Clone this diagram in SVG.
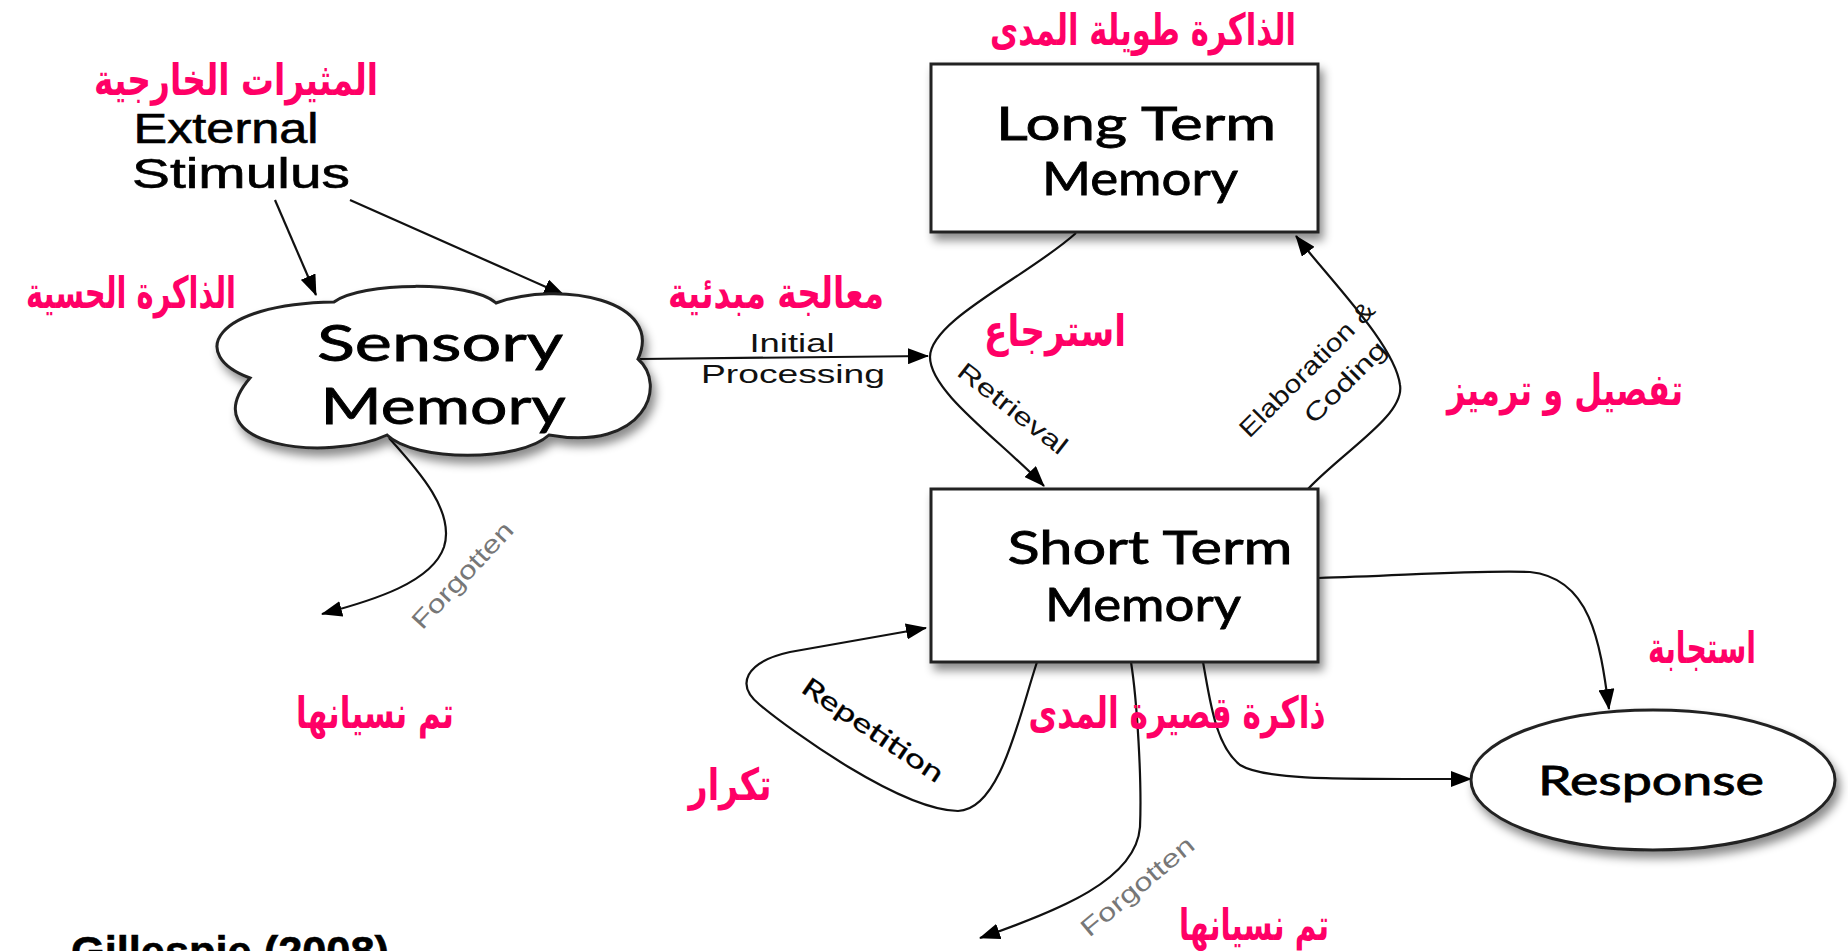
<svg xmlns="http://www.w3.org/2000/svg" width="1848" height="951" viewBox="0 0 1848 951">
<defs>
<style>
.ar{font-family:"DejaVu Sans","Noto Sans",sans-serif;font-weight:bold;fill:#FF0066;font-size:44px;text-anchor:middle}
.en{font-family:"Liberation Sans",Arial,sans-serif;fill:#000;text-anchor:middle;stroke:#000;stroke-width:0.6}
.gs{font-family:Lato,"Open Sans",sans-serif;fill:#000;text-anchor:middle;stroke:#000;stroke-width:0.8}
.lbl{font-family:"Liberation Sans",Arial,sans-serif;font-size:25px;fill:#111;text-anchor:middle}
.fg{fill:#777}
.node{fill:#fff;stroke:#222;stroke-width:3}
.edge{fill:none;stroke:#111;stroke-width:2.2}
</style>
<filter id="sh" x="-10%" y="-10%" width="130%" height="140%">
<feDropShadow dx="4" dy="7" stdDeviation="5" flood-color="#000" flood-opacity="0.45"/>
</filter>
<marker id="ah" markerUnits="userSpaceOnUse" markerWidth="22" markerHeight="16" refX="20" refY="8" orient="auto">
<path d="M0,0 L21,8 L0,16 Z" fill="#000"/>
</marker>
</defs>
<rect width="1848" height="951" fill="#fff"/>

<g id="connectors">
<path class="edge" d="M275 200 L316 295" marker-end="url(#ah)"/>
<path class="edge" d="M350 200 L564 295" marker-end="url(#ah)"/>
<path class="edge" d="M640 359 L928 356" marker-end="url(#ah)"/>
<path class="edge" d="M389 438 C420 472 455 512 444 547 C432 582 375 600 322 614" marker-end="url(#ah)"/>
<path class="edge" d="M1076 233 C1030 275 930 320 930 357 C930 392 1000 440 1044 486" marker-end="url(#ah)"/>
<path class="edge" d="M1308 489 C1345 450 1405 415 1400 385 C1395 345 1330 280 1296 236" marker-end="url(#ah)"/>
<path class="edge" d="M1037 662 C1018 720 1000 810 958 811 C900 810 790 730 760 705 C735 685 745 662 790 652 L926 628" marker-end="url(#ah)"/>
<path class="edge" d="M1131 662 C1137 700 1142 780 1140 827 C1136 880 1060 910 980 938" marker-end="url(#ah)"/>
<path class="edge" d="M1203 662 C1210 700 1215 745 1240 765 C1265 780 1330 779 1471 779" marker-end="url(#ah)"/>
<path class="edge" d="M1318 578 C1400 576 1470 570 1530 572 C1590 578 1600 640 1609 709" marker-end="url(#ah)"/>
</g>

<g id="edge-labels">
<text class="lbl" x="792" y="352" textLength="85" lengthAdjust="spacingAndGlyphs">Initial</text>
<text class="lbl" x="793" y="383" textLength="184" lengthAdjust="spacingAndGlyphs">Processing</text>
<text class="lbl" transform="translate(1013,408) rotate(38)" y="9" textLength="132" lengthAdjust="spacingAndGlyphs">Retrieval</text>
<g transform="translate(1325,376) rotate(-45)">
<text class="lbl" x="-8" y="-9" textLength="180" lengthAdjust="spacingAndGlyphs">Elaboration &amp;</text>
<text class="lbl" x="10" y="27" textLength="105" lengthAdjust="spacingAndGlyphs">Coding</text>
</g>
<text class="gs" style="font-size:26px;stroke-width:0.3" transform="translate(873,730) rotate(34)" y="9" textLength="165" lengthAdjust="spacingAndGlyphs">Repetition</text>
<text class="lbl fg" transform="translate(462,575) rotate(-47)" y="9" textLength="136" lengthAdjust="spacingAndGlyphs">Forgotten</text>
<text class="lbl fg" transform="translate(1137,886) rotate(-40)" y="9" textLength="140" lengthAdjust="spacingAndGlyphs">Forgotten</text>
</g>

<g id="external-stimulus">
<text class="en" x="226" y="143" font-size="42" textLength="185" lengthAdjust="spacingAndGlyphs">External</text>
<text class="en" x="241" y="188" font-size="42" textLength="218" lengthAdjust="spacingAndGlyphs">Stimulus</text>
</g>

<g id="sensory-memory">
<path class="node" filter="url(#sh)" d="M334 302 C360 282 470 280 496 303 C560 280 665 300 638 359 C668 385 645 452 549 435 C520 462 415 462 387 435 C330 462 190 448 250 378 C188 355 212 304 334 302 Z"/>
<text class="gs" x="440" y="361" font-size="50" textLength="246" lengthAdjust="spacingAndGlyphs">Sensory</text>
<text class="gs" x="443" y="424" font-size="50" textLength="245" lengthAdjust="spacingAndGlyphs">Memory</text>
</g>

<g id="long-term-memory">
<rect class="node" filter="url(#sh)" x="931" y="64" width="387" height="168"/>
<text class="gs" x="1136" y="140" font-size="46" textLength="280" lengthAdjust="spacingAndGlyphs">Long Term</text>
<text class="gs" x="1140" y="195" font-size="46" textLength="196" lengthAdjust="spacingAndGlyphs">Memory</text>
</g>

<g id="short-term-memory">
<rect class="node" filter="url(#sh)" x="931" y="489" width="387" height="173"/>
<text class="gs" x="1150" y="564" font-size="46" textLength="285" lengthAdjust="spacingAndGlyphs">Short Term</text>
<text class="gs" x="1143" y="621" font-size="46" textLength="196" lengthAdjust="spacingAndGlyphs">Memory</text>
</g>

<g id="response">
<ellipse class="node" filter="url(#sh)" cx="1653" cy="780" rx="182" ry="70"/>
<text class="gs" x="1651" y="795" font-size="40" textLength="226" lengthAdjust="spacingAndGlyphs">Response</text>
</g>

<g id="arabic-labels">
<text class="ar" x="236" y="95" textLength="284" lengthAdjust="spacingAndGlyphs">المثيرات الخارجية</text>
<text class="ar" x="131" y="308" textLength="210" lengthAdjust="spacingAndGlyphs">الذاكرة الحسية</text>
<text class="ar" x="776" y="308" textLength="216" lengthAdjust="spacingAndGlyphs">معالجة مبدئية</text>
<text class="ar" x="1143" y="45" textLength="306" lengthAdjust="spacingAndGlyphs">الذاكرة طويلة المدى</text>
<text class="ar" x="1055" y="346" textLength="142" lengthAdjust="spacingAndGlyphs">استرجاع</text>
<text class="ar" x="1565" y="405" textLength="236" lengthAdjust="spacingAndGlyphs">تفصيل و ترميز</text>
<text class="ar" x="375" y="728" textLength="158" lengthAdjust="spacingAndGlyphs">تم نسيانها</text>
<text class="ar" x="730" y="800" textLength="83" lengthAdjust="spacingAndGlyphs">تكرار</text>
<text class="ar" x="1177" y="728" textLength="297" lengthAdjust="spacingAndGlyphs">ذاكرة قصيرة المدى</text>
<text class="ar" x="1702" y="663" textLength="108" lengthAdjust="spacingAndGlyphs">استجابة</text>
<text class="ar" x="1254" y="940" textLength="150" lengthAdjust="spacingAndGlyphs">تم نسيانها</text>
</g>

<g id="citation">
<text class="en" x="230" y="966" font-size="42" font-weight="bold" textLength="318" lengthAdjust="spacingAndGlyphs">Gillespie (2008)</text>
</g>
</svg>
